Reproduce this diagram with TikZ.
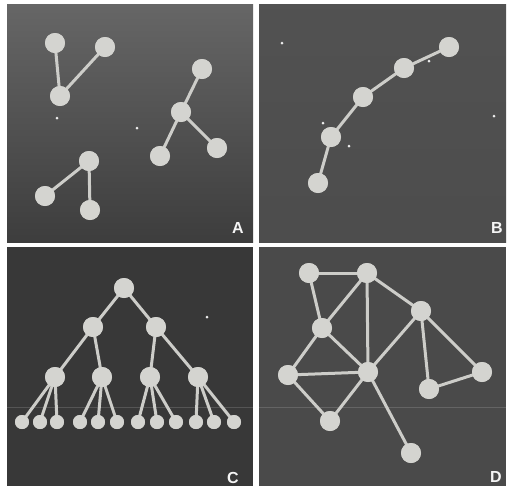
\documentclass[tikz,border=0pt]{standalone}
\usepackage{fontspec}
\setsansfont{Liberation Sans}
\begin{document}
\begin{tikzpicture}[x=1pt,y=-1pt,
  vtx/.style={circle,fill=nodegray,draw=none,minimum size=20pt,inner sep=0pt},
  leaf/.style={circle,fill=nodegray,draw=none,minimum size=14pt,inner sep=0pt},
  link/.style={draw=linkgray,line width=3pt},
  speck/.style={circle,fill=white!85!gray,draw=none,minimum size=3pt,inner sep=0pt},
  tag/.style={text=white!92!gray,font=\sffamily\bfseries\fontsize{16}{16}\selectfont,inner sep=0pt},
]
\definecolor{nodegray}{HTML}{D4D4D0}
\definecolor{linkgray}{HTML}{CDCDC9}
% page and the four panels
\fill[white] (0,0) rectangle (507,488);
\shade[top color=black!60,bottom color=black!76] (7,4) rectangle (253,242);
\shade[top color=black!68,bottom color=black!70] (259,4) rectangle (506,242);
\fill[black!78] (7,247) rectangle (253,486);
\fill[black!71] (259,247) rectangle (506,486);
% faint fold across the lower panels
\draw[white,opacity=0.15,line width=0.8pt] (7,407) -- (253,407) (259,407) -- (506,407);
\useasboundingbox (0,0) rectangle (507,488);

% ---- panel A: three small trees
\node[vtx] (a1) at (55,43) {};
\node[vtx] (a2) at (105,47) {};
\node[vtx] (a3) at (60,96) {};
\node[vtx] (a4) at (202,69) {};
\node[vtx] (a5) at (181,112) {};
\node[vtx] (a6) at (160,156) {};
\node[vtx] (a7) at (217,148) {};
\node[vtx] (a8) at (89,161) {};
\node[vtx] (a9) at (45,196) {};
\node[vtx] (a10) at (90,210) {};
\node[speck] (sa1) at (57,118) {};
\node[speck] (sa2) at (137,128) {};
\node[tag] (la) at (238,228) {A};

% ---- panel B: a chain
\node[vtx] (b1) at (449,47) {};
\node[vtx] (b2) at (404,68) {};
\node[vtx] (b3) at (363,97) {};
\node[vtx] (b4) at (331,137) {};
\node[vtx] (b5) at (318,183) {};
\node[speck] (sb1) at (282,43) {};
\node[speck] (sb2) at (429,61) {};
\node[speck] (sb3) at (494,116) {};
\node[speck] (sb4) at (323,123) {};
\node[speck] (sb5) at (349,146) {};
\node[tag] (lb) at (497,228) {B};

% ---- panel C: a three-level hierarchy
\node[vtx] (c0) at (124,288) {};
\node[vtx] (c1) at (93,327) {};
\node[vtx] (c2) at (156,327) {};
\node[vtx] (c11) at (55,377) {};
\node[vtx] (c12) at (102,377) {};
\node[vtx] (c21) at (150,377) {};
\node[vtx] (c22) at (198,377) {};
\foreach \i/\x in {1/22,2/40,3/57,4/80,5/98,6/117,7/138,8/157,9/176,10/196,11/214,12/234}
  \node[leaf] (cl\i) at (\x,422) {};
\node[speck] (sc1) at (207,317) {};
\node[tag] (lc) at (233,478) {C};

% ---- panel D: a mesh
\node[vtx] (d1) at (309,273) {};
\node[vtx] (d2) at (367,273) {};
\node[vtx] (d3) at (421,311) {};
\node[vtx] (d4) at (322,328) {};
\node[vtx] (d5) at (288,375) {};
\node[vtx] (d6) at (368,372) {};
\node[vtx] (d7) at (482,372) {};
\node[vtx] (d8) at (429,389) {};
\node[vtx] (d9) at (330,421) {};
\node[vtx] (d10) at (411,453) {};
\node[tag] (ld) at (496,477) {D};

% ---- connectors
\foreach \u/\v in {a1/a3,a2/a3,a4/a5,a5/a6,a5/a7,a8/a9,a8/a10,
                   b1/b2,b2/b3,b3/b4,b4/b5,
                   c0/c1,c0/c2,c1/c11,c1/c12,c2/c21,c2/c22,
                   c11/cl1,c11/cl2,c11/cl3,c12/cl4,c12/cl5,c12/cl6,
                   c21/cl7,c21/cl8,c21/cl9,c22/cl10,c22/cl11,c22/cl12,
                   d1/d2,d1/d4,d2/d4,d2/d6,d2/d3,d4/d5,d4/d6,d5/d6,
                   d5/d9,d9/d6,d6/d3,d6/d10,d3/d8,d3/d7,d8/d7}
  \draw[link] (\u.center) -- (\v.center);
% vertices repainted on top of the connectors
\foreach \n in {a1,a2,a3,a4,a5,a6,a7,a8,a9,a10,b1,b2,b3,b4,b5,
                c0,c1,c2,c11,c12,c21,c22,d1,d2,d3,d4,d5,d6,d7,d8,d9,d10}
  \fill[nodegray] (\n) circle (10pt);
\foreach \i in {1,...,12}
  \fill[nodegray] (cl\i) circle (7pt);
\end{tikzpicture}
\end{document}
